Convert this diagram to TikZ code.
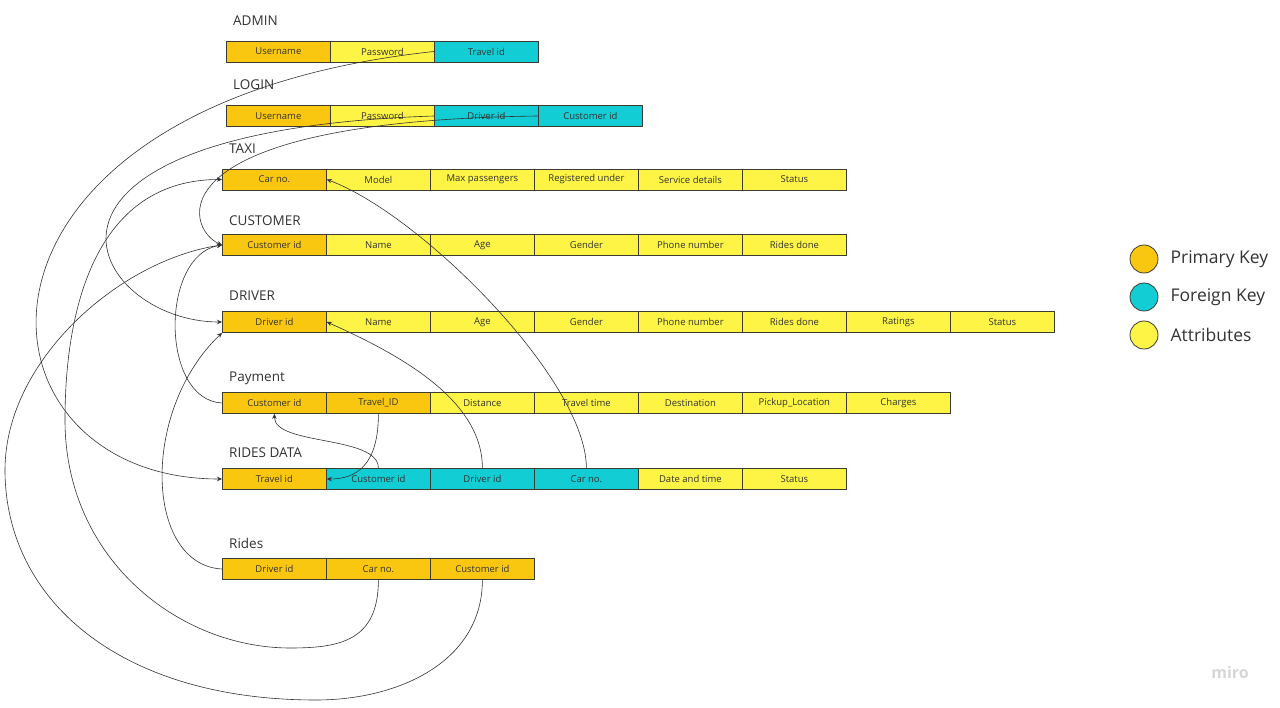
\documentclass[tikz,border=0pt]{standalone}
\usepackage{fontspec}
\setmainfont{Open Sans}
\usetikzlibrary{arrows.meta,positioning}
\definecolor{pkcol}{HTML}{FAC710}
\definecolor{fkcol}{HTML}{12CDD4}
\definecolor{atcol}{HTML}{FEF445}
\definecolor{edgecol}{HTML}{3C3C32}
\definecolor{inkcol}{HTML}{333333}
\begin{document}
\begin{tikzpicture}[x=1pt, y=-1pt,
	cell/.style={draw=edgecol, line width=0.8pt, minimum width=104pt, minimum height=21pt, inner sep=0pt, anchor=west, text=inkcol, font=\fontsize{9.5}{11}\selectfont},
	tabtitle/.style={anchor=base west, inner sep=0pt, text=inkcol, font=\fontsize{13.5}{16}\selectfont},
	link/.style={draw=inkcol, line width=0.6pt, -{Stealth[length=5pt,width=4.5pt]}},
	keydot/.style={circle, draw=edgecol, line width=0.8pt, minimum size=28pt, inner sep=0pt},
	keytext/.style={anchor=west, inner sep=0pt, text=inkcol, font=\fontsize{17.5}{20}\selectfont}]
	\useasboundingbox (0,0) rectangle (1280,708);
	% tables
	\node[tabtitle] (admint) at (233,26) {ADMIN};
	\foreach \i/\txt/\col in {1/Username/pkcol, 2/Password/atcol, 3/Travel id/fkcol}
		\node[cell, fill=\col] (admin\i) at ({226+104*(\i-1)},51.5) {\txt};
	\node[tabtitle] (logint) at (233,90) {LOGIN};
	\foreach \i/\txt/\col in {1/Username/pkcol, 2/Password/atcol, 3/Driver id/fkcol, 4/Customer id/fkcol}
		\node[cell, fill=\col] (login\i) at ({226+104*(\i-1)},116) {\txt};
	\node[tabtitle] (taxit) at (229,154) {TAXI};
	\foreach \i/\txt/\col in {1/Car no./pkcol, 2/Model/atcol, 3/Max passengers/atcol, 4/Registered under/atcol, 5/Service details/atcol, 6/Status/atcol}
		\node[cell, fill=\col] (taxi\i) at ({222+104*(\i-1)},179.5) {\txt};
	\node[tabtitle] (custt) at (229,226) {CUSTOMER};
	\foreach \i/\txt/\col in {1/Customer id/pkcol, 2/Name/atcol, 3/Age/atcol, 4/Gender/atcol, 5/Phone number/atcol, 6/Rides done/atcol}
		\node[cell, fill=\col] (cust\i) at ({222+104*(\i-1)},245) {\txt};
	\node[tabtitle] (drivert) at (229,301) {DRIVER};
	\foreach \i/\txt/\col in {1/Driver id/pkcol, 2/Name/atcol, 3/Age/atcol, 4/Gender/atcol, 5/Phone number/atcol, 6/Rides done/atcol, 7/Ratings/atcol, 8/Status/atcol}
		\node[cell, fill=\col] (driver\i) at ({222+104*(\i-1)},322) {\txt};
	\node[tabtitle] (payt) at (229,382) {Payment};
	\foreach \i/\txt/\col in {1/Customer id/pkcol, 2/Travel\_ID/pkcol, 3/Distance/atcol, 4/Travel time/atcol, 5/Destination/atcol, 6/Pickup\_Location/atcol, 7/Charges/atcol}
		\node[cell, fill=\col] (pay\i) at ({222+104*(\i-1)},403) {\txt};
	\node[tabtitle] (rdatat) at (229,457) {RIDES DATA};
	\foreach \i/\txt/\col in {1/Travel id/pkcol, 2/Customer id/fkcol, 3/Driver id/fkcol, 4/Car no./fkcol, 5/Date and time/atcol, 6/Status/atcol}
		\node[cell, fill=\col] (rdata\i) at ({222+104*(\i-1)},479) {\txt};
	\node[tabtitle] (ridest) at (229,548) {Rides};
	\foreach \i/\txt/\col in {1/Driver id/pkcol, 2/Car no./pkcol, 3/Customer id/pkcol}
		\node[cell, fill=\col] (rides\i) at ({222+104*(\i-1)},569) {\txt};
	% legend
	\foreach \j/\col/\txt in {0/pkcol/Primary Key, 1/fkcol/Foreign Key, 2/atcol/Attributes} {
		\node[keydot, fill=\col] (dot\j) at (1144,{259+38*\j}) {};
		\node[keytext, right=12pt of dot\j] (key\j) {\txt};
	}
	\node[text=black!16, font=\fontsize{16}{18}\selectfont\bfseries] (logo) at (1230,672) {miro};
	% links
	\draw[link] (admin3.west) .. controls +(-504,54) and +(-262,0) .. (rdata1.west);
	\draw[link] (login3.west) .. controls +(-454,15) and +(-132,0) .. (driver1.west);
	\draw[link] (login4.west) .. controls +(-388,5) and +(-37,-16) .. (cust1.west);
	\draw[link] (rides2.south) .. controls +(0,61) and +(50,0) .. (290,648)
		.. controls +(-110,0) and +(0,140) .. (65,420)
		.. controls +(0,-120) and +(-122,0) .. (taxi1.west);
	\draw[link] (rides3.south) .. controls +(0,81) and +(84,0) .. (316,700)
		.. controls +(-196,0) and +(0,130) .. (5,470)
		.. controls +(0,-110) and +(-102,15) .. (cust1.west);
	\draw[link] (pay1.west) .. controls +(-62,-3) and +(-62,10) .. (cust1.west);
	\draw[link] (rides1.west) .. controls +(-77,-4) and +(-82,78) .. (driver1.south west);
	\draw[link] (rdata2.north) .. controls +(0,-33) and +(0,32) .. (pay1.south);
	\draw[link] (pay2.south) .. controls +(0,52) and +(29,0) .. (rdata1.east);
	\draw[link] (rdata3.north) .. controls +(0,-68) and +(74,33) .. (driver1.east);
	\draw[link] (rdata4.north) .. controls +(0,-88) and +(94,35) .. (taxi1.east);
\end{tikzpicture}
\end{document}
